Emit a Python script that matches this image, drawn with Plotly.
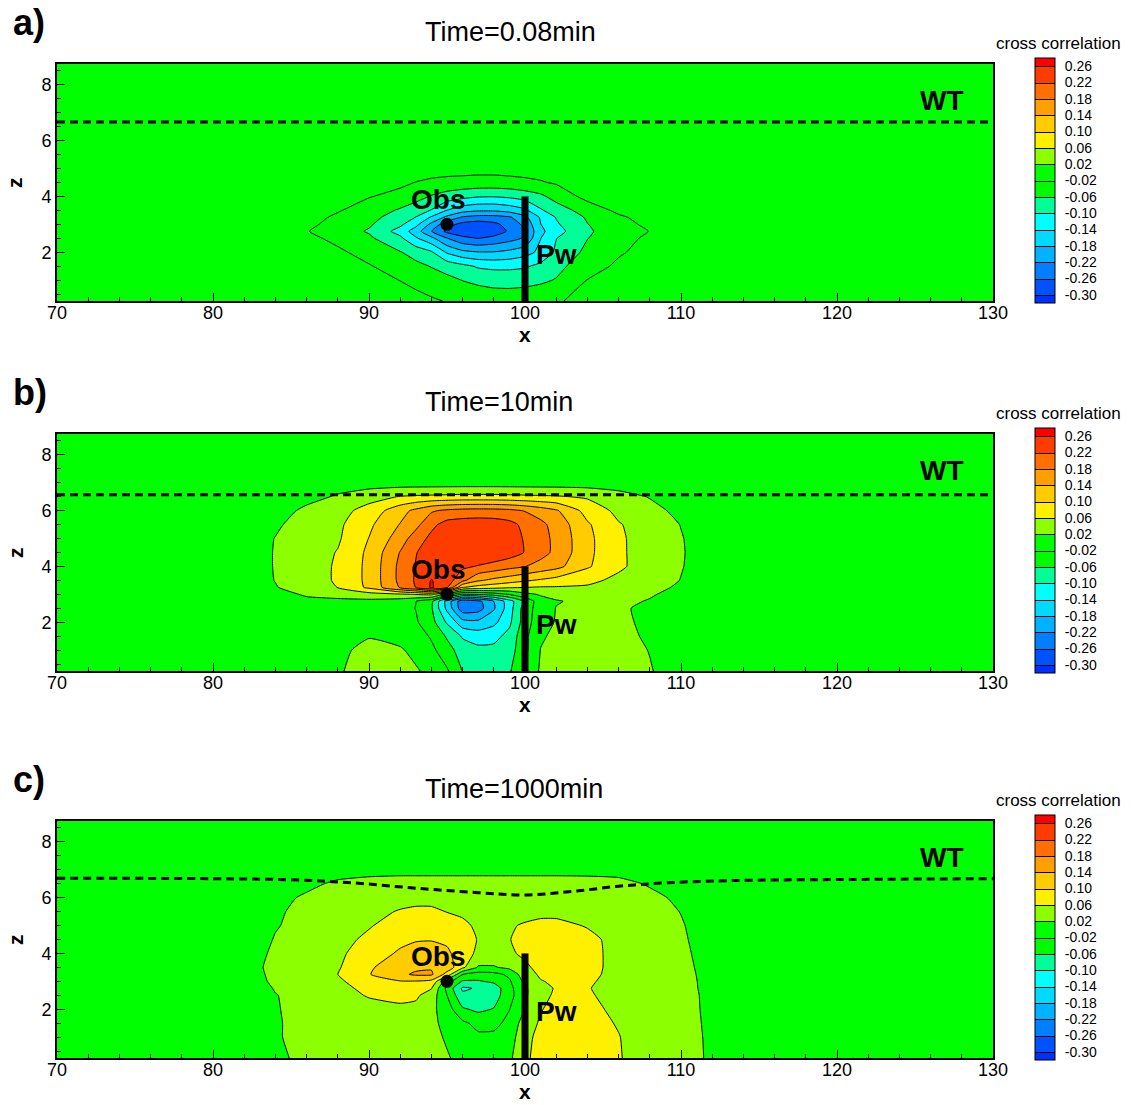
import plotly.graph_objects as go

FONT = "Liberation Sans, Arial, Helvetica, sans-serif"

# ---------------- data ----------------
X_GRID = [70, 82, 84, 86, 88, 90, 92, 93, 94, 95, 96, 97, 98, 99, 100, 101, 102, 104, 106, 108, 110, 112, 114, 130]
Z_GRID = [0.25, 1.0, 1.5, 2.0, 2.5, 2.75, 3.0, 3.25, 3.5, 4.0, 4.5, 5.0, 5.5, 6.0, 6.5, 7.0, 8.75]

ZERO = [0] * 24

# a) Time=0.08min
CC_A = [
    [0, 0, 0, 0, 0, 0, 0, -0.008, -0.015, -0.022, -0.030, -0.036, -0.040, -0.042, -0.040, -0.035, -0.025, -0.005, 0, 0, 0, 0, 0, 0],
    [0, 0, 0, 0, 0, -0.002, -0.021, -0.030, -0.040, -0.050, -0.061, -0.068, -0.072, -0.072, -0.070, -0.066, -0.058, -0.019, 0, 0, 0, 0, 0, 0],
    [0, 0, 0, 0, 0, -0.017, -0.040, -0.050, -0.062, -0.075, -0.090, -0.105, -0.110, -0.110, -0.105, -0.090, -0.070, -0.040, -0.012, 0, 0, 0, 0, 0],
    [0, 0, 0, 0, -0.013, -0.035, -0.058, -0.075, -0.095, -0.145, -0.170, -0.178, -0.178, -0.170, -0.155, -0.130, -0.092, -0.050, -0.025, -0.005, 0, 0, 0, 0],
    [0, 0, 0, -0.010, -0.030, -0.053, -0.092, -0.135, -0.170, -0.219, -0.250, -0.261, -0.250, -0.235, -0.215, -0.141, -0.101, -0.061, -0.035, -0.012, 0, 0, 0, 0],
    [0, 0, 0, -0.018, -0.040, -0.064, -0.115, -0.160, -0.219, -0.270, -0.285, -0.290, -0.280, -0.255, -0.221, -0.150, -0.115, -0.065, -0.040, -0.019, -0.005, 0, 0, 0],
    [0, 0, 0, -0.010, -0.035, -0.055, -0.092, -0.128, -0.190, -0.245, -0.272, -0.280, -0.270, -0.245, -0.210, -0.141, -0.105, -0.061, -0.033, -0.012, 0, 0, 0, 0],
    [0, 0, 0, -0.005, -0.027, -0.048, -0.078, -0.101, -0.145, -0.190, -0.225, -0.235, -0.235, -0.225, -0.190, -0.135, -0.098, -0.055, -0.026, -0.006, 0, 0, 0, 0],
    [0, 0, 0, 0, -0.017, -0.038, -0.065, -0.082, -0.102, -0.141, -0.165, -0.175, -0.175, -0.165, -0.148, -0.105, -0.080, -0.042, -0.012, 0, 0, 0, 0, 0],
    [0, 0, 0, 0, -0.005, -0.018, -0.032, -0.045, -0.063, -0.077, -0.088, -0.097, -0.098, -0.093, -0.082, -0.068, -0.045, -0.008, 0, 0, 0, 0, 0, 0],
    [0, 0, 0, 0, 0, 0, -0.012, -0.021, -0.027, -0.031, -0.033, -0.034, -0.034, -0.032, -0.028, -0.023, -0.016, -0.002, 0, 0, 0, 0, 0, 0],
    [0, 0, 0, 0, 0, 0, 0, 0, -0.004, -0.005, -0.006, -0.008, -0.008, -0.006, -0.005, -0.004, -0.003, 0, 0, 0, 0, 0, 0, 0],
    ZERO, ZERO, ZERO, ZERO, ZERO,
]

# b) Time=10min
CC_B = [
    [0, 0, 0, 0.005, 0.017, 0.032, 0.030, 0.024, 0.010, -0.015, -0.061, -0.075, -0.075, -0.065, -0.015, 0.025, 0.032, 0.036, 0.034, 0.022, 0.004, 0, 0, 0],
    [0, 0, 0, 0.005, 0.012, 0.030, 0.024, 0.010, -0.010, -0.045, -0.078, -0.090, -0.090, -0.078, -0.030, 0.021, 0.030, 0.035, 0.032, 0.019, 0, 0, 0, 0],
    [0, 0, 0, 0.004, 0.010, 0.018, 0.008, 0.0, -0.025, -0.065, -0.105, -0.118, -0.112, -0.088, -0.030, 0.015, 0.028, 0.032, 0.028, 0.016, 0, 0, 0, 0],
    [0, 0, 0, 0.004, 0.005, 0.006, 0.0, -0.015, -0.045, -0.105, -0.165, -0.170, -0.150, -0.108, -0.040, 0.008, 0.022, 0.030, 0.026, 0.014, 0, 0, 0, 0],
    [0, 0, 0, 0.005, 0.005, 0.005, -0.005, -0.021, -0.055, -0.150, -0.245, -0.238, -0.185, -0.118, -0.040, 0.0, 0.021, 0.026, 0.024, 0.014, 0, 0, 0, 0],
    [0, 0, 0.002, 0.010, 0.010, 0.010, 0.0, -0.019, -0.050, -0.155, -0.248, -0.232, -0.180, -0.118, -0.052, 0.005, 0.018, 0.027, 0.027, 0.018, 0.006, 0, 0, 0],
    [0, 0, 0.005, 0.025, 0.035, 0.045, 0.055, 0.062, 0.070, 0.001, -0.062, -0.058, -0.040, -0.018, 0.010, 0.024, 0.028, 0.030, 0.033, 0.023, 0.010, 0, 0, 0],
    [0, 0, 0.018, 0.038, 0.061, 0.108, 0.185, 0.221, 0.265, 0.225, 0.102, 0.085, 0.075, 0.065, 0.061, 0.057, 0.057, 0.056, 0.047, 0.030, 0.015, 0, 0, 0],
    [0, 0, 0.021, 0.040, 0.065, 0.110, 0.190, 0.225, 0.262, 0.240, 0.190, 0.145, 0.130, 0.118, 0.105, 0.095, 0.085, 0.068, 0.052, 0.038, 0.019, 0, 0, 0],
    [0, 0, 0.022, 0.040, 0.065, 0.110, 0.190, 0.222, 0.235, 0.235, 0.228, 0.217, 0.205, 0.192, 0.181, 0.165, 0.152, 0.105, 0.066, 0.043, 0.022, 0, 0, 0],
    [0, 0, 0.022, 0.040, 0.062, 0.108, 0.182, 0.218, 0.240, 0.252, 0.255, 0.255, 0.252, 0.240, 0.218, 0.195, 0.170, 0.110, 0.066, 0.043, 0.023, 0, 0, 0],
    [0, 0, 0.021, 0.038, 0.055, 0.101, 0.160, 0.200, 0.230, 0.245, 0.250, 0.252, 0.250, 0.240, 0.216, 0.195, 0.170, 0.110, 0.066, 0.042, 0.022, 0, 0, 0],
    [0, 0, 0.015, 0.035, 0.052, 0.092, 0.142, 0.168, 0.210, 0.235, 0.240, 0.242, 0.240, 0.232, 0.210, 0.190, 0.165, 0.105, 0.063, 0.040, 0.019, 0, 0, 0],
    [0, 0, 0.0, 0.030, 0.045, 0.075, 0.125, 0.150, 0.175, 0.188, 0.194, 0.196, 0.195, 0.190, 0.178, 0.162, 0.145, 0.085, 0.050, 0.032, 0.010, 0, 0, 0],
    [0, 0, 0, 0.005, 0.025, 0.045, 0.062, 0.066, 0.068, 0.070, 0.072, 0.072, 0.072, 0.070, 0.068, 0.066, 0.064, 0.055, 0.035, 0.018, 0.004, 0, 0, 0],
    ZERO, ZERO,
]

# c) Time=1000min
CC_C = [
    [0, 0, 0.012, 0.030, 0.035, 0.036, 0.036, 0.034, 0.030, 0.023, 0.010, 0.005, 0.005, 0.012, 0.055, 0.070, 0.075, 0.072, 0.062, 0.045, 0.036, 0.014, 0, 0],
    [0, 0, 0.017, 0.030, 0.036, 0.038, 0.038, 0.035, 0.030, 0.016, 0.0, -0.012, -0.012, 0.0, 0.050, 0.070, 0.075, 0.072, 0.061, 0.044, 0.036, 0.013, 0, 0],
    [0, 0, 0.017, 0.030, 0.038, 0.040, 0.042, 0.038, 0.028, 0.010, -0.012, -0.032, -0.030, -0.010, 0.040, 0.065, 0.072, 0.070, 0.058, 0.043, 0.035, 0.012, 0, 0],
    [0, 0, 0.018, 0.030, 0.040, 0.047, 0.052, 0.049, 0.030, 0.0, -0.055, -0.068, -0.058, -0.021, 0.021, 0.058, 0.070, 0.066, 0.055, 0.042, 0.034, 0.011, 0, 0],
    [0, 0, 0.019, 0.030, 0.046, 0.063, 0.071, 0.067, 0.042, -0.020, -0.092, -0.095, -0.078, -0.035, 0.015, 0.045, 0.068, 0.065, 0.045, 0.040, 0.034, 0.010, 0, 0],
    [0, 0, 0.022, 0.033, 0.050, 0.069, 0.076, 0.074, 0.062, -0.030, -0.106, -0.096, -0.082, -0.032, 0.015, 0.045, 0.064, 0.062, 0.046, 0.040, 0.033, 0.009, 0, 0],
    [0, 0, 0.027, 0.036, 0.054, 0.080, 0.098, 0.098, 0.090, 0.001, -0.064, -0.064, -0.052, -0.025, 0.030, 0.058, 0.066, 0.064, 0.050, 0.040, 0.033, 0.008, 0, 0],
    [0, 0, 0.030, 0.036, 0.060, 0.098, 0.132, 0.146, 0.146, 0.085, -0.019, -0.035, -0.032, -0.012, 0.045, 0.065, 0.072, 0.068, 0.050, 0.040, 0.033, 0.006, 0, 0],
    [0, 0, 0.033, 0.037, 0.056, 0.095, 0.122, 0.132, 0.136, 0.124, 0.068, 0.016, 0.016, 0.030, 0.055, 0.068, 0.075, 0.070, 0.050, 0.040, 0.032, 0.004, 0, 0],
    [0, 0, 0.027, 0.035, 0.053, 0.078, 0.106, 0.115, 0.116, 0.108, 0.078, 0.052, 0.050, 0.056, 0.065, 0.075, 0.080, 0.072, 0.048, 0.040, 0.030, 0, 0, 0],
    [0, 0, 0.022, 0.032, 0.047, 0.068, 0.090, 0.097, 0.098, 0.092, 0.077, 0.058, 0.055, 0.059, 0.070, 0.078, 0.080, 0.068, 0.050, 0.040, 0.026, 0, 0, 0],
    [0, 0, 0.018, 0.030, 0.041, 0.057, 0.077, 0.082, 0.082, 0.077, 0.066, 0.055, 0.054, 0.057, 0.063, 0.068, 0.068, 0.058, 0.047, 0.038, 0.023, 0, 0, 0],
    [0, 0, 0.015, 0.030, 0.038, 0.048, 0.063, 0.068, 0.067, 0.059, 0.055, 0.050, 0.048, 0.048, 0.050, 0.052, 0.052, 0.048, 0.043, 0.035, 0.019, 0, 0, 0],
    [0, 0, 0.010, 0.025, 0.035, 0.040, 0.045, 0.047, 0.048, 0.048, 0.047, 0.046, 0.045, 0.045, 0.045, 0.045, 0.045, 0.043, 0.040, 0.030, 0.012, 0, 0, 0],
    [0, 0, 0, 0.012, 0.026, 0.035, 0.040, 0.040, 0.040, 0.040, 0.040, 0.040, 0.040, 0.040, 0.040, 0.040, 0.040, 0.038, 0.032, 0.016, 0.004, 0, 0, 0],
    [0, 0, 0, 0, 0.005, 0.005, 0.005, 0.005, 0.005, 0.005, 0.005, 0.005, 0.005, 0.005, 0.005, 0.005, 0.005, 0.005, 0.005, 0, 0, 0, 0, 0],
    ZERO,
]

LEVELS = [-0.30, -0.26, -0.22, -0.18, -0.14, -0.10, -0.06, -0.02, 0.02, 0.06, 0.10, 0.14, 0.18, 0.22, 0.26]
LEVEL_LABELS = ["-0.30", "-0.26", "-0.22", "-0.18", "-0.14", "-0.10", "-0.06", "-0.02",
                "0.02", "0.06", "0.10", "0.14", "0.18", "0.22", "0.26"]
BAND_COLORS = ["rgb(0,48,255)", "rgb(0,82,255)", "rgb(0,128,255)", "rgb(0,178,255)",
               "rgb(0,218,255)", "rgb(0,255,255)", "rgb(0,255,150)", "rgb(0,250,0)",
               "rgb(0,255,0)", "rgb(140,255,0)", "rgb(255,240,0)", "rgb(255,204,0)",
               "rgb(255,160,0)", "rgb(255,112,0)", "rgb(255,60,0)", "rgb(255,0,0)"]

TIMES = ["Time=0.08min", "Time=10min", "Time=1000min"]
PANEL_LABELS = ["a)", "b)", "c)"]

WT_A_X = [70, 130]
WT_A_Z = [6.67, 6.67]
WT_B_X = [70, 130]
WT_B_Z = [6.57, 6.57]
WT_C_X = [70, 80, 85, 89, 93, 97, 100, 103, 106, 109, 113, 120, 130]
WT_C_Z = [6.70, 6.68, 6.64, 6.53, 6.34, 6.18, 6.10, 6.22, 6.41, 6.53, 6.61, 6.65, 6.68]

WELL_X = [100, 100]
WELL_Z = [0.25, 4.0]
OBS_X = [95]
OBS_Z = [3.0]

LABEL_POS = {"Obs": (94.4, 3.9), "Pw": (102.05, 1.93), "WT": (126.7, 7.43)}

# ---------------- layout geometry ----------------
W, H = 1131, 1105
L, R, T, B = 57, 138, 64, 47
PW = W - L - R
PH = H - T - B
PANEL_OFFSET = [0, 370, 757]


def px_x(px):
    return (px - L) / PW


def px_y(py):
    return (H - B - py) / PH


colorscale = [[k / 15, BAND_COLORS[k]] for k in range(16)]

fig = go.Figure()
fields = [CC_A, CC_B, CC_C]
wts = [(WT_A_X, WT_A_Z), (WT_B_X, WT_B_Z), (WT_C_X, WT_C_Z)]
annotations = []

for i in range(3):
    off = PANEL_OFFSET[i]
    sfx = "" if i == 0 else str(i + 1)
    xa, ya = "x" + sfx, "y" + sfx
    fig.add_trace(go.Contour(
        x=X_GRID, y=Z_GRID, z=fields[i], xaxis=xa, yaxis=ya,
        colorscale=colorscale, autocontour=False,
        contours=dict(start=-0.30, end=0.26, size=0.04, coloring="fill", showlines=True),
        line=dict(color="black", width=1, smoothing=0.5),
        hoverinfo="skip",
        colorbar=dict(
            thickness=20, thicknessmode="pixels", len=245, lenmode="pixels",
            x=px_x(1035), xanchor="left", xpad=0,
            y=px_y(180.5 + off), yanchor="middle", ypad=0,
            tickvals=LEVELS, ticktext=LEVEL_LABELS, ticks="outside", ticklen=7,
            tickcolor="rgba(0,0,0,0)", tickfont=dict(family=FONT, size=14, color="black"),
            outlinewidth=1, outlinecolor="black",
        ),
    ))
    wx, wz = wts[i]
    fig.add_trace(go.Scatter(x=wx, y=wz, xaxis=xa, yaxis=ya, mode="lines",
                             line=dict(color="black", width=3, dash="8px,5px", shape="spline"),
                             hoverinfo="skip"))
    fig.add_trace(go.Scatter(x=WELL_X, y=WELL_Z, xaxis=xa, yaxis=ya, mode="lines",
                             line=dict(color="black", width=7), hoverinfo="skip"))
    fig.add_trace(go.Scatter(x=OBS_X, y=OBS_Z, xaxis=xa, yaxis=ya, mode="markers",
                             marker=dict(color="black", size=13), hoverinfo="skip"))

    for txt, (tx, tz) in LABEL_POS.items():
        annotations.append(dict(x=tx, y=tz, xref=xa, yref=ya, text="<b>%s</b>" % txt,
                                showarrow=False, font=dict(family=FONT, size=28, color="black")))
    # panel letter
    annotations.append(dict(x=px_x(11), y=px_y(22 + off), xref="paper", yref="paper",
                            xanchor="left", yanchor="middle", text="<b>%s</b>" % PANEL_LABELS[i],
                            showarrow=False, font=dict(family=FONT, size=36, color="black")))
    # title
    annotations.append(dict(x=px_x(423), y=px_y(32 + off), xref="paper", yref="paper",
                            xanchor="left", yanchor="middle", text=TIMES[i],
                            showarrow=False, font=dict(family=FONT, size=27, color="black")))
    # colorbar title
    annotations.append(dict(x=px_x(994), y=px_y(43 + off), xref="paper", yref="paper",
                            xanchor="left", yanchor="middle", text="cross correlation",
                            showarrow=False, font=dict(family=FONT, size=17, color="black")))
    # axis titles
    annotations.append(dict(x=px_x(525), y=px_y(334 + off), xref="paper", yref="paper",
                            xanchor="center", yanchor="middle", text="<b>x</b>",
                            showarrow=False, font=dict(family=FONT, size=21, color="black")))
    annotations.append(dict(x=px_x(15), y=px_y(183 + off), xref="paper", yref="paper",
                            xanchor="center", yanchor="middle", text="<b>z</b>", textangle=-90,
                            showarrow=False, font=dict(family=FONT, size=21, color="black")))

axis_common = dict(ticks="inside", ticklen=8, tickwidth=1, tickcolor="black",
                   showline=True, linewidth=2, linecolor="black", mirror=True,
                   showgrid=False, zeroline=False,
                   tickfont=dict(family=FONT, size=18, color="black"))

layout = dict(width=W, height=H, margin=dict(l=L, r=R, t=T, b=B),
              paper_bgcolor="white", plot_bgcolor="rgb(0,255,0)",
              showlegend=False, annotations=annotations)

domains = [[px_y(301), px_y(64)], [px_y(671), px_y(434)], [px_y(1058), px_y(821)]]
for i in range(3):
    sfx = "" if i == 0 else str(i + 1)
    layout["xaxis" + sfx] = dict(axis_common, range=[70, 130], tick0=70, dtick=10,
                                 anchor="y" + sfx, domain=[0, 1], ticklabelstandoff=-6,
                                 minor=dict(dtick=2, ticks="inside", ticklen=4, tickcolor="black"))
    layout["yaxis" + sfx] = dict(axis_common, range=[0.25, 8.75], tick0=0, dtick=2,
                                 anchor="x" + sfx, domain=domains[i], ticklabelstandoff=0,
                                 minor=dict(dtick=0.5, ticks="inside", ticklen=4, tickcolor="black"))

fig.update_layout(**layout)
fig.write_html("out.html", config={"displayModeBar": False},
               post_script="document.body.style.margin='0px';document.body.style.overflow='hidden';")
